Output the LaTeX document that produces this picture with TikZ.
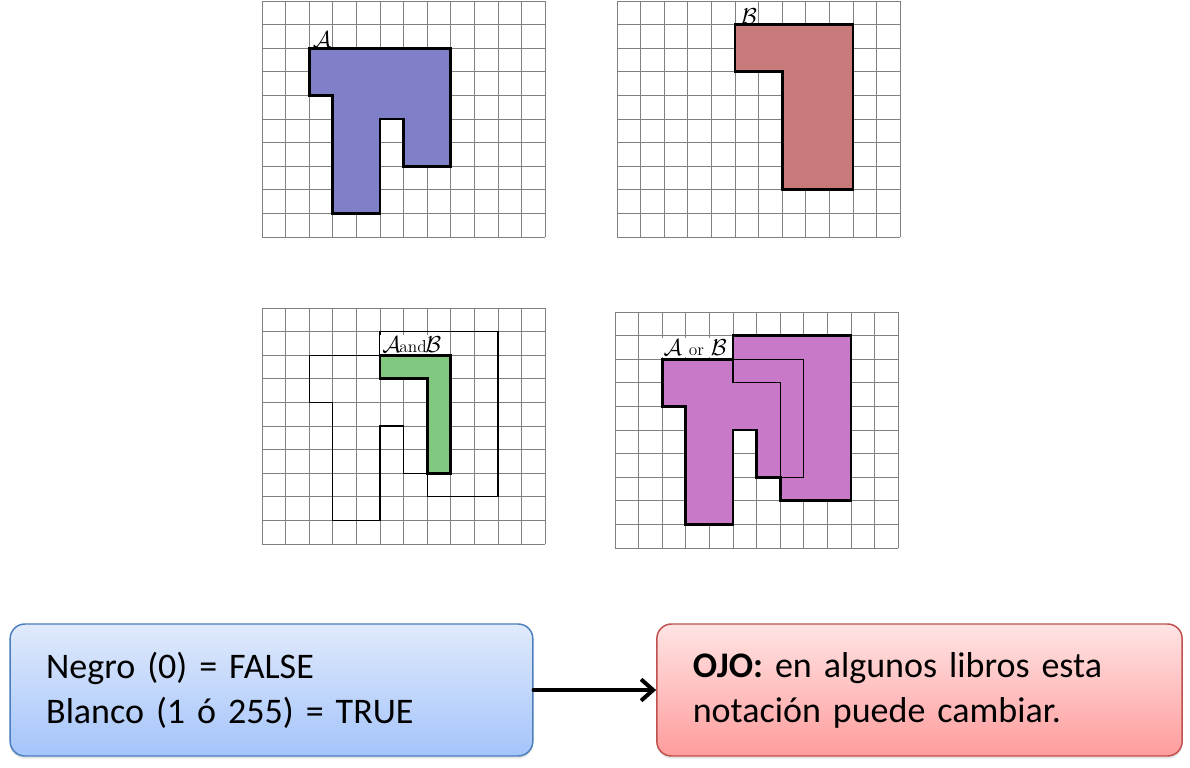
\documentclass[tikz,border=0pt]{standalone}
\usepackage{fontspec}
\usepackage{amsmath}
\usetikzlibrary{arrows.meta,shadows}
\newfontfamily\calibri[WordSpace=0.85]{Carlito}

\definecolor{gridgray}{RGB}{128,128,128}
\definecolor{fillA}{RGB}{128,128,200}
\definecolor{fillB}{RGB}{200,122,122}
\definecolor{fillAnd}{RGB}{128,200,128}
\definecolor{fillOr}{RGB}{200,122,200}
\definecolor{boxblue}{RGB}{74,126,187}
\definecolor{bluetop}{RGB}{224,234,252}
\definecolor{bluebot}{RGB}{164,196,250}
\definecolor{boxred}{RGB}{192,80,77}
\definecolor{redtop}{RGB}{255,228,228}
\definecolor{redbot}{RGB}{255,156,156}

\begin{document}
\begin{tikzpicture}[
  x=0.75pt,
  y=-0.75pt,
  every node/.style={font=\fontsize{17}{19}\selectfont},
  cellgrid/.style={draw=gridgray, line width=0.6pt},
  thinedge/.style={draw=black, line width=0.9pt},
  thickedge/.style={draw=black, line width=2pt, line join=miter},
  setlabel/.style={inner sep=1pt},
  setA/.style={insert path={(2,2) -- (8,2) -- (8,7) -- (6,7) -- (6,5) -- (5,5) -- (5,9) -- (3,9) -- (3,4) -- (2,4) -- cycle}},
  setB/.style={insert path={(5,1) -- (10,1) -- (10,8) -- (7,8) -- (7,3) -- (5,3) -- cycle}},
  setAnd/.style={insert path={(5,2) -- (8,2) -- (8,7) -- (7,7) -- (7,3) -- (5,3) -- cycle}},
  setOr/.style={insert path={(5,1) -- (10,1) -- (10,8) -- (7,8) -- (7,7) -- (6,7) -- (6,5) -- (5,5) -- (5,9) -- (3,9) -- (3,4) -- (2,4) -- (2,2) -- (5,2) -- cycle}},
  infobox/.style={rounded corners=11pt, line width=1.1pt, align=left,
    minimum height=99pt, inner xsep=27pt,
    font=\calibri\fontsize{27}{33.75}\selectfont,
    drop shadow={opacity=0.2, shadow xshift=0pt, shadow yshift=-2pt}},
  bluebox/.style={infobox, draw=boxblue, top color=bluetop, bottom color=bluebot, text width=338pt},
  redbox/.style={infobox, draw=boxred, top color=redtop, bottom color=redbot, text width=340pt},
  link/.style={-{Straight Barb[length=9pt, width=16pt]}, line width=3pt, line cap=round, line join=round}
]
  \useasboundingbox (0,0) rectangle (1190,768);

  % the four 12x10 grids
  \foreach \gx/\gy in {262/1, 617/1, 262/308, 615/312} {
    \begin{scope}[shift={(\gx,\gy)}, x=17.7pt, y=-17.7pt]
      \foreach \c in {0,...,12} \draw[cellgrid] (\c,0) -- (\c,10);
      \foreach \r in {0,...,10} \draw[cellgrid] (0,\r) -- (12,\r);
    \end{scope}
  }

  % A
  \begin{scope}[shift={(262,1)}, x=17.7pt, y=-17.7pt]
    \filldraw[fill=fillA, thickedge, setA];
    \node[setlabel, anchor=south] (labA) at (2.55,2.05) {$\mathcal{A}$};
  \end{scope}

  % B
  \begin{scope}[shift={(617,1)}, x=17.7pt, y=-17.7pt]
    \filldraw[fill=fillB, thickedge, setB];
    \node[setlabel, anchor=south] (labB) at (5.6,1.05) {$\mathcal{B}$};
  \end{scope}

  % A and B
  \begin{scope}[shift={(262,308)}, x=17.7pt, y=-17.7pt]
    \draw[thinedge, setA];
    \draw[thinedge, setB];
    \filldraw[fill=fillAnd, thickedge, setAnd];
    \node[setlabel, fill=white, inner xsep=2pt] (labAnd) at (6.35,1.55) {$\mathcal{A}$\kern-1pt{\fontsize{13}{14}\selectfont and}\kern-1pt$\mathcal{B}$};
  \end{scope}

  % A or B
  \begin{scope}[shift={(615,312)}, x=17.7pt, y=-17.7pt]
    \fill[fillOr, setA];
    \fill[fillOr, setB];
    \draw[thinedge, setA];
    \draw[thinedge, setB];
    \draw[thickedge, setOr];
    \node[setlabel, fill=white, inner xsep=2pt] (labOr) at (3.4,1.5) {$\mathcal{A}$\ {\fontsize{13}{14}\selectfont or}\ $\mathcal{B}$};
  \end{scope}

  % legend boxes
  \node[bluebox] (rule) at (271.5,690) {Negro (0) = FALSE\\Blanco (1 ó 255) = TRUE};
  \node[redbox] (note) at (919.5,690) {\textbf{OJO:} en algunos libros esta\\notación puede cambiar.};
  \draw[link] (rule) -- (note);
\end{tikzpicture}
\end{document}
